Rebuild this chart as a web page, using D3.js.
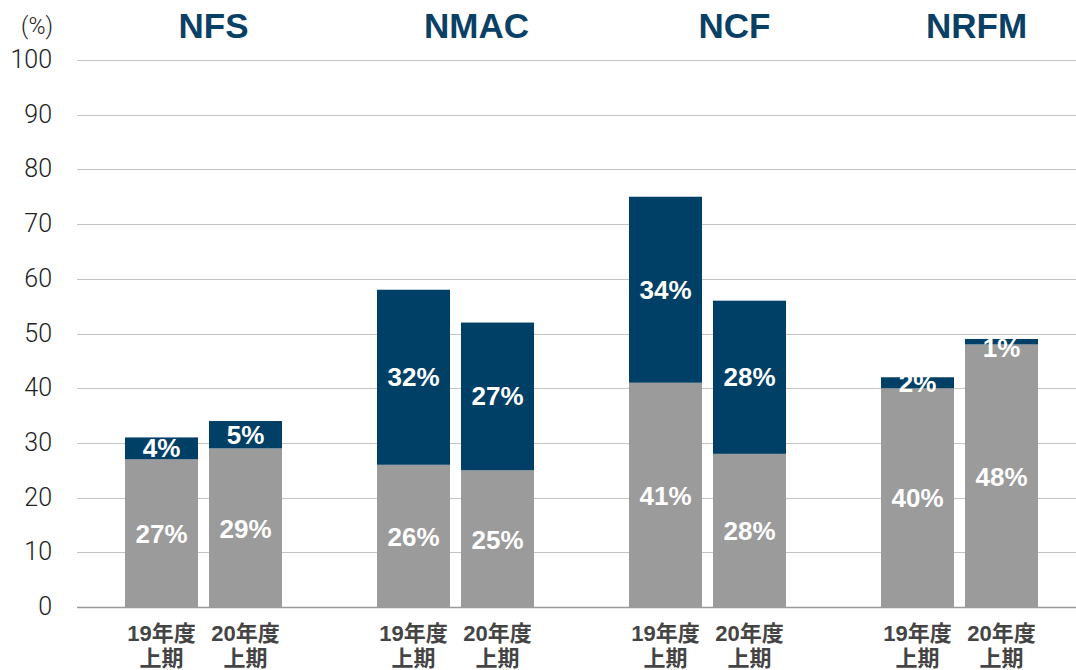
<!DOCTYPE html>
<html><head><meta charset="utf-8">
<script src="https://cdn.jsdelivr.net/npm/d3@7"></script>
<style>
body{margin:0;background:#fff;}
svg{display:block;}
text{font-family:"Liberation Sans","Noto Sans CJK JP",Arial,sans-serif;}
</style></head>
<body><svg id="c" width="1076" height="670"></svg>
<script>
const companies = ["NFS", "NMAC", "NCF", "NRFM"];
const periods = ["19年度\n上期", "20年度\n上期"];
const grayValues = [27, 29, 26, 25, 41, 28, 40, 48];
const navyValues = [4, 5, 32, 27, 34, 28, 2, 1];
const yTicks = [0, 10, 20, 30, 40, 50, 60, 70, 80, 90, 100];

const svg = d3.select("#c");
const W = 1076, H = 670;
const y = d3.scaleLinear().domain([0, 100]).range([607, 60]);
const groupX = d3.scaleBand().domain(companies).range([77, 1085]).paddingInner(0).paddingOuter(0);
const barX = d3.scaleBand().domain([0, 1]).range([48, 205]).paddingInner(11 / 84);

// grid
svg.append("g").selectAll("line").data(yTicks).join("line")
  .attr("x1", 77).attr("x2", W)
  .attr("y1", d => Math.round(y(d)) + 0.5).attr("y2", d => Math.round(y(d)) + 0.5)
  .attr("stroke", d => d === 0 ? "#9a9a9a" : "#c4c4c4").attr("stroke-width", d => d === 0 ? 1.5 : 1);

const yAxis = d3.axisLeft(y).tickValues(yTicks).tickSize(0).tickPadding(0);
const ga = svg.append("g").attr("transform", "translate(52,0)").call(yAxis);
ga.select(".domain").remove();
ga.selectAll("text").attr("font-size", 25).attr("fill", "#222").attr("dy", "0.3em")
  .style("font-family", 'Roboto,"Liberation Sans",Arial,sans-serif').style("font-weight", 300);

svg.append("text").attr("x", 37).attr("y", 34).attr("text-anchor", "middle")
  .attr("font-size", 23).attr("fill", "#222")
  .style("font-family", 'Roboto,"Liberation Sans",Arial,sans-serif').style("font-weight", 300).text("(%)");

const data = [];
companies.forEach((c, ci) => {
  periods.forEach((p, pi) => {
    const i = ci * 2 + pi;
    data.push({c, p, pi, g: grayValues[i], n: navyValues[i]});
  });
});
const bx = d => groupX(d.c) + barX(d.pi);
const bw = barX.bandwidth();

const bars = svg.append("g").selectAll("g").data(data).join("g");
bars.append("rect").attr("x", bx).attr("width", bw)
  .attr("y", d => y(d.g)).attr("height", d => y(0) - y(d.g)).attr("fill", "#9b9b9b");
bars.append("rect").attr("x", bx).attr("width", bw)
  .attr("y", d => y(d.g + d.n)).attr("height", d => y(d.g) - y(d.g + d.n)).attr("fill", "#003f66");

bars.append("text").attr("x", d => bx(d) + bw / 2).attr("y", d => (y(0) + y(d.g)) / 2 + 3)
  .attr("text-anchor", "middle").attr("dominant-baseline", "middle")
  .attr("font-size", 26).attr("font-weight", "bold").attr("fill", "#fff").text(d => d.g + "%");
bars.append("text").attr("x", d => bx(d) + bw / 2)
  .attr("y", d => Math.max((y(d.g) + y(d.g + d.n)) / 2 + 2, d.n < 2 ? y(d.g + d.n) + 11 : 0))
  .attr("text-anchor", "middle").attr("dominant-baseline", "middle")
  .attr("font-size", 26).attr("font-weight", "bold").attr("fill", "#fff").text(d => d.n + "%");

// x labels
const xl = svg.append("g").selectAll("text").data(data).join("text")
  .attr("x", d => bx(d) + bw / 2).attr("y", 641)
  .attr("text-anchor", "middle").attr("font-size", 22).attr("font-weight", "bold").attr("fill", "#444");
xl.each(function(d) {
  const lines = d.p.split("\n");
  d3.select(this).selectAll("tspan").data(lines).join("tspan")
    .attr("x", bx(d) + bw / 2).attr("dy", (l, i) => i === 0 ? 0 : 25).text(l => l);
});

// titles
const titleDx = [10, 21, 27, 17];
svg.append("g").selectAll("text").data(companies).join("text")
  .attr("x", (c, i) => groupX(c) + barX(0) + (bw * 2 + 11) / 2 + titleDx[i]).attr("y", 38)
  .attr("text-anchor", "middle").attr("font-size", 35).attr("font-weight", "bold").attr("fill", "#0a4065")
  .text(c => c);
</script></body></html>
